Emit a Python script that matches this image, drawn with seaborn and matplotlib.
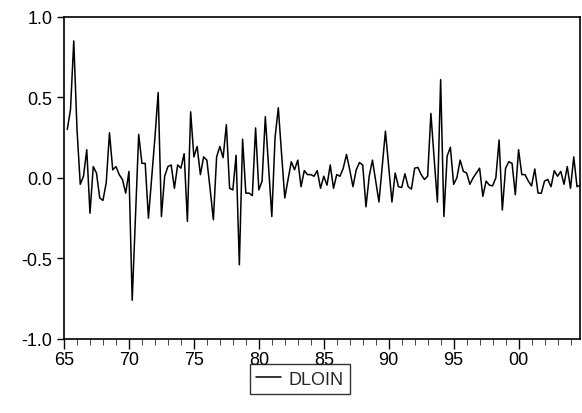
import numpy as np
import pandas as pd
import matplotlib
matplotlib.use("Agg")
import matplotlib.pyplot as plt
import seaborn as sns
from matplotlib.ticker import MultipleLocator, FixedLocator, FixedFormatter

# Serie trimestral DLOIN, 1965Q2 - 2004Q4
inicio = 1965.25
dloin = [
    0.30, 0.425, 0.85, 0.30, -0.04, 0.01, 0.175, -0.22, 0.07, 0.03,
    -0.125, -0.14, -0.03, 0.28, 0.05, 0.07, 0.02, -0.01, -0.095, 0.04,
    -0.76, -0.25, 0.27, 0.09, 0.09, -0.25, 0.00, 0.25, 0.53, -0.24,
    0.01, 0.07, 0.08, -0.065, 0.08, 0.06, 0.15, -0.27, 0.41, 0.13,
    0.195, 0.02, 0.13, 0.11, -0.07, -0.26, 0.13, 0.195, 0.125, 0.33,
    -0.065, -0.075, 0.14, -0.54, 0.24, -0.095, -0.095, -0.11, 0.31, -0.075,
    -0.02, 0.38, 0.07, -0.24, 0.25, 0.435, 0.15, -0.125, -0.01, 0.10,
    0.05, 0.11, -0.055, 0.045, 0.02, 0.02, 0.01, 0.045, -0.065, 0.01,
    -0.045, 0.08, -0.065, 0.02, 0.01, 0.06, 0.145, 0.05, -0.055, 0.05,
    0.095, 0.08, -0.18, 0.01, 0.11, -0.02, -0.15, 0.07, 0.29, 0.07,
    -0.15, 0.03, -0.055, -0.06, 0.025, -0.055, -0.07, 0.06, 0.065, 0.02,
    -0.01, 0.01, 0.40, 0.12, -0.15, 0.61, -0.24, 0.135, 0.19, -0.04,
    0.00, 0.11, 0.04, 0.03, -0.04, 0.00, 0.03, 0.06, -0.115, -0.02,
    -0.045, -0.05, 0.00, 0.235, -0.20, 0.06, 0.10, 0.09, -0.105, 0.175,
    0.02, 0.02, -0.02, -0.05, 0.055, -0.095, -0.095, -0.02, -0.01, -0.055,
    0.045, 0.01, 0.04, -0.04, 0.07, -0.065, 0.13, -0.055, -0.045,
]
anios = [inicio + 0.25 * i for i in range(len(dloin))]
ticks_x = [1965, 1970, 1975, 1980, 1985, 1990, 1995, 2000]
etiquetas_x = ["65", "70", "75", "80", "85", "90", "95", "00"]
ticks_y = [-1.0, -0.5, 0.0, 0.5, 1.0]

df = pd.DataFrame({"fecha": anios, "DLOIN": dloin})

sns.set_style("ticks")
plt.rcParams["font.family"] = ["Liberation Sans", "DejaVu Sans"]
plt.rcParams["axes.unicode_minus"] = False

fig = plt.figure(figsize=(5.82, 4.14), dpi=100)
ax = fig.add_axes([0.110, 0.179, 0.887, 0.778])

sns.lineplot(data=df, x="fecha", y="DLOIN", ax=ax, color="black",
             linewidth=1.1, label="DLOIN", legend=False)

# Ejes
ax.set_xlim(1965, 2004.75)
ax.set_ylim(-1.0, 1.0)
ax.xaxis.set_major_locator(FixedLocator(ticks_x))
ax.xaxis.set_major_formatter(FixedFormatter(etiquetas_x))
ax.xaxis.set_minor_locator(MultipleLocator(1))
ax.yaxis.set_major_locator(FixedLocator(ticks_y))
ax.set_yticklabels([f"{v:.1f}" for v in ticks_y])
ax.set_xlabel("")
ax.set_ylabel("")
ax.tick_params(axis="both", labelsize=13, colors="black", width=1.0)
ax.tick_params(axis="x", which="major", length=7, direction="out", pad=2)
ax.tick_params(axis="x", which="minor", length=4, direction="out")
ax.tick_params(axis="y", which="major", length=5, direction="out")
for lado in ax.spines.values():
    lado.set_color("black")
    lado.set_linewidth(1.2)

# Leyenda abajo al centro
h, l = ax.get_legend_handles_labels()
leg = fig.legend(h, l, loc="center", bbox_to_anchor=(0.515, 0.082),
                 frameon=True, fancybox=False, edgecolor="black",
                 fontsize=13, handlelength=1.4, handletextpad=0.4,
                 borderpad=0.35, borderaxespad=0)
leg.get_frame().set_linewidth(1.0)

plt.savefig("out.png", dpi=100)
plt.close()
